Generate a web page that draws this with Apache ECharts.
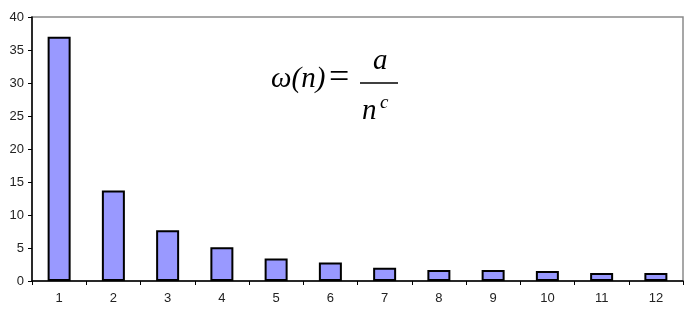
<!DOCTYPE html>
<html><head><meta charset="utf-8">
<script src="https://cdn.jsdelivr.net/npm/echarts@6/dist/echarts.min.js"></script>
<style>html,body{margin:0;padding:0;background:#fff}#c{width:689px;height:313px}</style>
</head><body><div id="c"></div>
<script>
const categories = ['1','2','3','4','5','6','7','8','9','10','11','12'];
const values = [37, 13.7, 7.7, 5.1, 3.4, 2.8, 2.0, 1.65, 1.65, 1.5, 1.2, 1.2];
const yTicks = [0,5,10,15,20,25,30,35,40];

const chart = echarts.init(document.getElementById('c'));
const serif = '"Liberation Serif","DejaVu Serif",serif';
const sans = 'Arial, "Liberation Sans", sans-serif';
chart.setOption({
  animation:false,
  grid:{left:32,right:6,top:17,bottom:32,show:true,borderColor:'#8a8a8a',borderWidth:1.5},
  xAxis:{type:'category',data:categories,
    axisLine:{lineStyle:{color:'#000',width:1.5}},
    axisTick:{show:true,alignWithLabel:false,length:4,lineStyle:{color:'#000'}},
    axisLabel:{color:'#222',fontSize:13,fontFamily:sans,margin:11}},
  yAxis:{type:'value',min:yTicks[0],max:yTicks[yTicks.length-1],interval:5,
    splitLine:{show:false},
    axisLine:{show:true,lineStyle:{color:'#000',width:1.5}},
    axisTick:{show:true,length:4,lineStyle:{color:'#000'}},
    axisLabel:{color:'#222',fontSize:13,fontFamily:sans,margin:8}},
  series:[{type:'bar',data:values,barWidth:23,
    itemStyle:{color:'#9999ff',borderColor:'#000',borderWidth:2}}],
  graphic:[
    {type:'text',left:271,top:65,style:{text:'ω(n)',font:'italic 29px '+serif,fill:'#000'}},
    {type:'text',left:329,top:61,style:{text:'=',font:'36px '+serif,fill:'#000'}},
    {type:'line',shape:{x1:360,y1:83,x2:398,y2:83},style:{stroke:'#000',lineWidth:1.5}},
    {type:'text',left:373,top:47,style:{text:'a',font:'italic 29px '+serif,fill:'#000'}},
    {type:'text',left:362,top:97,style:{text:'n',font:'italic 29px '+serif,fill:'#000'}},
    {type:'text',left:380,top:93,style:{text:'c',font:'italic 19px '+serif,fill:'#000'}}
  ]
});
</script></body></html>
